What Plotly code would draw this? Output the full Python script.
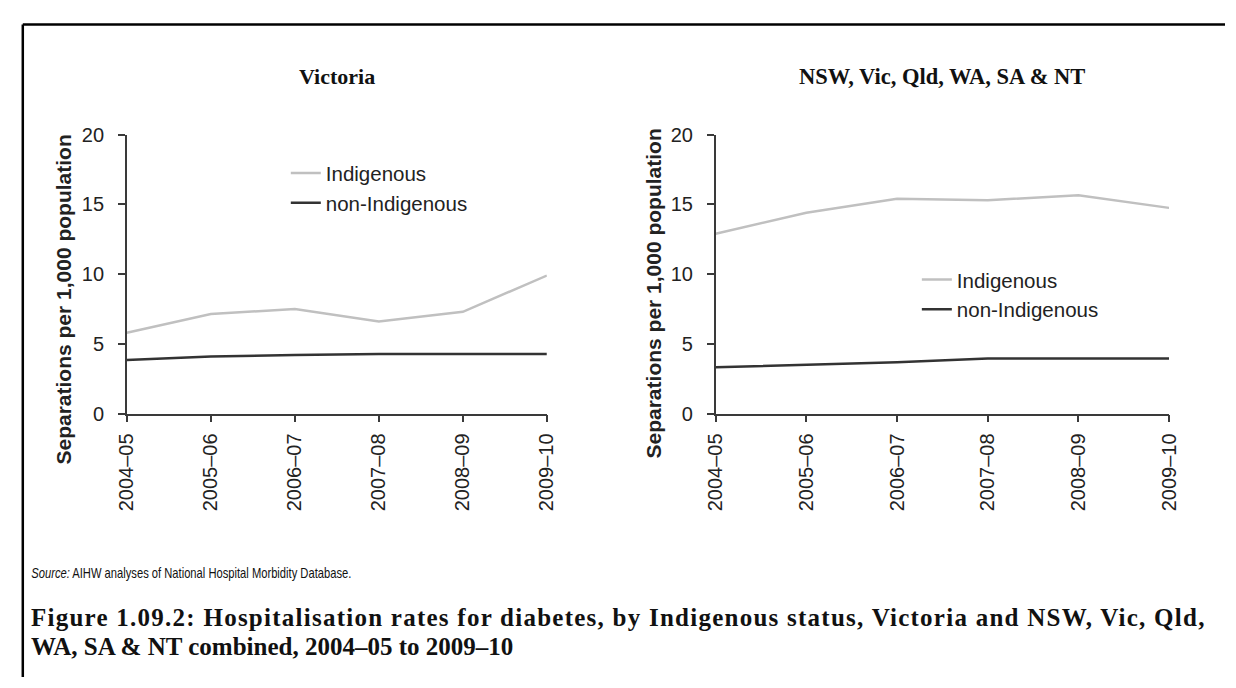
import plotly.graph_objects as go

W, H = 1236, 688

years = ["2004–05", "2005–06", "2006–07", "2007–08", "2008–09", "2009–10"]
vic_indigenous = [5.8, 7.15, 7.5, 6.6, 7.3, 9.9]
vic_non_indigenous = [3.85, 4.1, 4.2, 4.27, 4.27, 4.27]
comb_indigenous = [12.9, 14.4, 15.4, 15.3, 15.65, 14.75]
comb_non_indigenous = [3.33, 3.5, 3.68, 3.95, 3.95, 3.95]

panel_titles = ["Victoria", "NSW, Vic, Qld, WA, SA & NT"]
y_title = "Separations per 1,000 population"
series_names = ["Indigenous", "non-Indigenous"]
y_ticks = [0, 5, 10, 15, 20]
source_note = "<i>Source:</i> AIHW analyses of National Hospital Morbidity Database."
caption_lines = [
    "Figure 1.09.2: Hospitalisation rates for diabetes, by Indigenous status, Victoria and NSW, Vic, Qld,",
    "WA, SA &amp; NT combined, 2004–05 to 2009–10",
]

IND_COLOR = "#c0c0c0"
NON_COLOR = "#333333"
AXIS_COLOR = "#3a3a3a"
SANS = "Arial, Liberation Sans, Helvetica, sans-serif"
SERIF = "Book Antiqua, Palatino Linotype, Liberation Serif, serif"


def px(x):
    return x / W


def py(y):
    return 1 - y / H


fig = go.Figure()

fig.add_trace(go.Scatter(x=years, y=vic_indigenous, name=series_names[0], mode="lines",
                         line=dict(color=IND_COLOR, width=2.5), xaxis="x", yaxis="y", legend="legend"))
fig.add_trace(go.Scatter(x=years, y=vic_non_indigenous, name=series_names[1], mode="lines",
                         line=dict(color=NON_COLOR, width=2.5), xaxis="x", yaxis="y", legend="legend"))
fig.add_trace(go.Scatter(x=years, y=comb_indigenous, name=series_names[0], mode="lines",
                         line=dict(color=IND_COLOR, width=2.5), xaxis="x2", yaxis="y2", legend="legend2"))
fig.add_trace(go.Scatter(x=years, y=comb_non_indigenous, name=series_names[1], mode="lines",
                         line=dict(color=NON_COLOR, width=2.5), xaxis="x2", yaxis="y2", legend="legend2"))

ydom = [py(416), py(127.7)]

xaxis_common = dict(type="category", range=[0, len(years) - 1], showline=True, linecolor=AXIS_COLOR,
                    linewidth=1.5, ticks="outside", ticklen=7, tickcolor=AXIS_COLOR, tickwidth=1.5,
                    tickangle=-90, showgrid=False, zeroline=False,
                    tickfont=dict(family=SANS, size=20, color="#222222"), ticklabelstandoff=3)
yaxis_common = dict(range=[0, 20], tickvals=y_ticks, showline=True, linecolor=AXIS_COLOR, linewidth=1.5,
                    ticks="outside", ticklen=7, tickcolor=AXIS_COLOR, tickwidth=1.5, showgrid=False,
                    zeroline=False, tickfont=dict(family=SANS, size=20, color="#222222"),
                    ticklabelstandoff=10)

fig.update_layout(
    width=W, height=H,
    margin=dict(l=0, r=0, t=0, b=0),
    paper_bgcolor="white", plot_bgcolor="white",
    xaxis=dict(domain=[px(117), px(545)], anchor="y", **xaxis_common),
    yaxis=dict(domain=ydom, anchor="x", **yaxis_common),
    xaxis2=dict(domain=[px(717), px(1179)], anchor="y2", **xaxis_common),
    yaxis2=dict(domain=ydom, anchor="x2", **yaxis_common),
    legend=dict(x=px(279), y=py(147), xanchor="left", yanchor="top", bgcolor="rgba(0,0,0,0)",
                font=dict(family=SANS, size=20.5, color="#222222"), tracegroupgap=0),
    legend2=dict(x=px(922), y=py(257), xanchor="left", yanchor="top", bgcolor="rgba(0,0,0,0)",
                 font=dict(family=SANS, size=20.5, color="#222222"), tracegroupgap=0),
    showlegend=True,
)

annotations = [
    dict(text=f"<b>{panel_titles[0]}</b>", x=px(331), y=py(68), xref="paper", yref="paper",
         xanchor="center", yanchor="middle", showarrow=False,
         font=dict(family=SERIF, size=22, color="#111111")),
    dict(text=f"<b>{panel_titles[1]}</b>", x=px(948), y=py(68), xref="paper", yref="paper",
         xanchor="center", yanchor="middle", showarrow=False,
         font=dict(family=SERIF, size=22.5, color="#111111")),
    dict(text=f"<b>{y_title}</b>", x=px(52), y=py(298), xref="paper", yref="paper", textangle=-90,
         xanchor="center", yanchor="middle", showarrow=False,
         font=dict(family=SANS, size=21, color="#222222")),
    dict(text=f"<b>{y_title}</b>", x=px(654), y=py(292), xref="paper", yref="paper", textangle=-90,
         xanchor="center", yanchor="middle", showarrow=False,
         font=dict(family=SANS, size=21, color="#222222")),
    dict(text=source_note, x=px(17), y=py(581), xref="paper", yref="paper", xanchor="left",
         yanchor="middle", showarrow=False, font=dict(family=SANS, size=14, color="#111111")),
    dict(text=f"<b>{caption_lines[0]}</b>", x=px(17), y=py(627), xref="paper", yref="paper",
         xanchor="left", yanchor="middle", showarrow=False,
         font=dict(family=SERIF, size=25, color="#111111")),
    dict(text=f"<b>{caption_lines[1]}</b>", x=px(17), y=py(656), xref="paper", yref="paper",
         xanchor="left", yanchor="middle", showarrow=False,
         font=dict(family=SERIF, size=25, color="#111111")),
]
fig.update_layout(annotations=annotations)

fig.update_layout(shapes=[
    dict(type="line", xref="paper", yref="paper", x0=px(11), y0=0, x1=px(11), y1=py(14),
         line=dict(color="black", width=2.5)),
    dict(type="line", xref="paper", yref="paper", x0=px(11), y0=py(14), x1=1, y1=py(14),
         line=dict(color="black", width=2.5)),
])

# Typeface adjustments: the original caption face (Book Antiqua) is wider than the installed serif,
# and the source note uses a narrow sans; keep each text's left edge where Plotly placed it.
adjust_text = """
document.body.style.margin='0px';
var gd=document.getElementById('{plot_id}');
var t=gd.querySelector('g.annotation[data-index="5"] text.annotation-text');
if(t){
  var b0=t.getBBox();
  t.style.letterSpacing='1.25px';
  var b1=t.getBBox();
  var dx=(b1.width-b0.width)/2;
  if(!(dx>1)){dx=(t.textContent.length*1.25)/2;}
  t.setAttribute('transform','translate('+dx+',0)');
}
var s=gd.querySelector('g.annotation[data-index="4"] text.annotation-text');
if(s){
  var bs=s.getBBox();
  var k=0.8;
  s.setAttribute('transform','translate('+bs.x+',0) scale('+k+',1) translate('+(-bs.x)+',0)');
}
"""

fig.write_html("out.html", config={"displayModeBar": False}, post_script=adjust_text)
